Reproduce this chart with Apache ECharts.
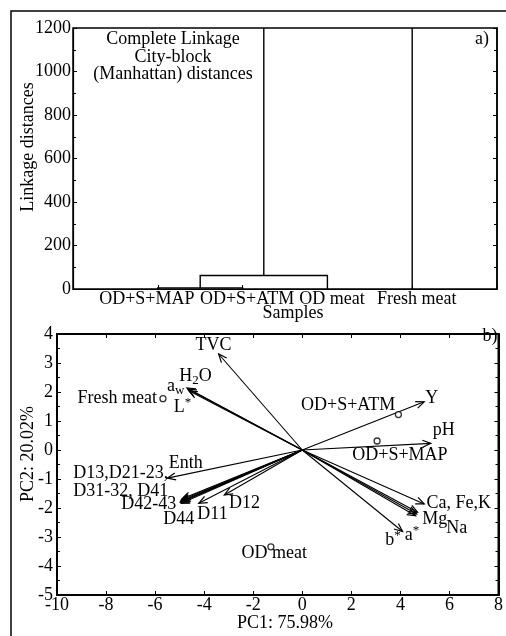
<!DOCTYPE html>
<html><head><meta charset="utf-8">
<script src="https://cdn.jsdelivr.net/npm/echarts@6/dist/echarts.min.js"></script>
<style>html,body{margin:0;padding:0;background:#fff}#c{width:506px;height:636px}</style>
</head><body><div id="c"></div>
<script>
// ---------- (a) dendrogram data ----------
const leafNames = ['OD+S+MAP', 'OD+S+ATM', 'OD meat', 'Fresh meat'];
const leafPos = [1, 2, 3, 4];
const mergeLeft = [1, 1.5, 2.25];
const mergeLeftBase = [0, 5, 62];
const mergeHeight = [5, 62, 1300];
const mergeRight = [2, 3, 4];
const mergeRightBase = [0, 0, 0];

// ---------- (b) PCA biplot data ----------
const vectorNames = ['TVC', 'aw', 'H2O', 'L*', 'Y', 'pH', 'Ca,Fe,K', 'Mg', 'Na', 'a*', 'b*',
  'Enth', 'D13', 'D21-23', 'D31-32', 'D41', 'D42-43', 'D44', 'D11', 'D12'];
const vectorPC1 = [-3.41, -4.70, -4.66, -4.62, 4.97, 5.24, 4.97, 4.70, 4.66, 4.62, 4.09,
  -5.50, -4.90, -4.94, -4.97, -4.93, -4.95, -4.90, -4.22, -3.18];
const vectorPC2 = [3.31, 2.14, 2.10, 2.04, 1.66, 0.23, -1.86, -2.15, -2.21, -2.27, -2.81,
  -0.97, -1.68, -1.73, -1.79, -1.84, -1.80, -1.76, -1.84, -1.55];

const sampleNames = ['Fresh meat', 'OD+S+ATM', 'OD+S+MAP', 'OD meat'];
const samplePC1 = [-5.68, 3.92, 3.05, -1.28];
const samplePC2 = [1.77, 1.22, 0.31, -3.34];

// annotation texts and their anchor positions (in PC coordinates)
const labelTexts = ['TVC', '{n|H}{sub|2}{n|O}', '{n|a}{sub|w}', 'Fresh meat', '{n|L}{sup|*}',
  'OD+S+ATM', 'Y', 'pH', 'OD+S+MAP', 'Enth', 'D13,D21-23,', 'D31-32, D41', 'D42-43', 'D44',
  'D11', 'D12', 'Ca, Fe,K', 'Mg', 'Na', '{n|a}{sup|*}', '{n|b}{sup|*}', 'OD meat'];
const labelPC1 = [-3.62, -4.35, -5.16, -7.54, -4.88, 1.87, 5.28, 5.77, 3.98, -4.75, -7.40, -7.40,
  -6.26, -5.04, -3.66, -2.36, 6.38, 5.40, 6.30, 4.47, 3.70, -1.14];
const labelPC2 = [3.62, 2.55, 2.21, 1.79, 1.48, 1.55, 1.79, 0.69, -0.17, -0.45, -0.79, -1.41,
  -1.86, -2.38, -2.21, -1.83, -1.83, -2.38, -2.69, -2.93, -3.10, -3.55];

const FONT = "'Liberation Serif', 'Times New Roman', serif";
const FS = 18;

const chart = echarts.init(document.getElementById('c'), null, {renderer: 'canvas'});

function mergeItem(params, api) {
  const a = api.coord([api.value(0), api.value(1)]);
  const b = api.coord([api.value(0), api.value(2)]);
  const c = api.coord([api.value(3), api.value(2)]);
  const d = api.coord([api.value(3), api.value(4)]);
  return {type: 'polyline', shape: {points: [a, b, c, d]},
    style: {stroke: '#000', lineWidth: 1.4, fill: null}};
}

function arrowItem(params, api) {
  const o = api.coord([0, 0]);
  const e = api.coord([api.value(0), api.value(1)]);
  const ang = Math.atan2(e[1] - o[1], e[0] - o[0]);
  const L = 9, A = 0.4;
  const p1 = [e[0] - L * Math.cos(ang - A), e[1] - L * Math.sin(ang - A)];
  const p2 = [e[0] - L * Math.cos(ang + A), e[1] - L * Math.sin(ang + A)];
  return {type: 'group', children: [
    {type: 'line', shape: {x1: o[0], y1: o[1], x2: e[0], y2: e[1]}, style: {stroke: '#000', lineWidth: 1.1}},
    {type: 'polyline', shape: {points: [p1, e, p2]}, style: {stroke: '#000', lineWidth: 1.2, fill: null}}
  ]};
}

function labelItem(params, api) {
  const p = api.coord([api.value(0), api.value(1)]);
  const t = labelTexts[api.value(2)];
  return {type: 'text', x: p[0], y: p[1], style: {
    text: t, fill: '#000', fontFamily: FONT, fontSize: 18, align: 'center', verticalAlign: 'middle',
    rich: {
      n: {fontFamily: FONT, fontSize: 18, lineHeight: 22, fill: '#000'},
      sub: {fontFamily: FONT, fontSize: 13, lineHeight: 10, verticalAlign: 'bottom', fill: '#000'},
      sup: {fontFamily: FONT, fontSize: 13, lineHeight: 10, verticalAlign: 'top', fill: '#000'}
    }
  }};
}

const labelRich = {
  l: {fontFamily: FONT, fontSize: FS, color: '#000', padding: [0, 22, 0, 0]},
  r: {fontFamily: FONT, fontSize: FS, color: '#000', padding: [0, 0, 0, 9]}
};

const tickStyle = {show: true, inside: true, length: 4, lineStyle: {color: '#000', width: 1}};
const minorStyle = {show: true, splitNumber: 2, length: 3, lineStyle: {color: '#000', width: 1}};
const plain = v => String(v);

const option = {
  backgroundColor: '#fff',
  animation: false,
  grid: [
    {left: 73, right: 9, top: 28, bottom: 347, show: true, borderColor: '#000', borderWidth: 1.5, backgroundColor: 'transparent'},
    {left: 57, right: 6, top: 334, bottom: 41, show: true, borderColor: '#000', borderWidth: 2, backgroundColor: 'transparent'}
  ],
  xAxis: [
    {gridIndex: 0, type: 'value', min: 0, max: 5, interval: 1, position: 'bottom',
      axisLine: {show: true, lineStyle: {color: '#000', width: 1.2}},
      axisTick: tickStyle, splitLine: {show: false},
      axisLabel: {margin: 1, color: '#000', fontFamily: FONT, fontSize: FS,
        formatter: v => {
          const i = leafPos.indexOf(v);
          if (i < 0) return '';
          return (i === 0 ? '{l|' : '{r|') + leafNames[i] + '}';
        }, rich: labelRich}},
    {gridIndex: 1, type: 'value', min: -10, max: 8, interval: 2, position: 'bottom',
      axisLine: {show: true, onZero: false, lineStyle: {color: '#000', width: 1.5}},
      axisTick: tickStyle, splitLine: {show: false},
      axisLabel: {margin: 1, color: '#000', fontFamily: FONT, fontSize: FS, formatter: plain}},
    {gridIndex: 1, type: 'value', min: -10, max: 8, interval: 2, position: 'top',
      axisLine: {show: true, onZero: false, lineStyle: {color: '#000', width: 2}},
      axisTick: tickStyle, axisLabel: {show: false}, splitLine: {show: false}}
  ],
  yAxis: [
    {gridIndex: 0, type: 'value', min: 0, max: 1200, interval: 200, position: 'left',
      axisLine: {show: true, lineStyle: {color: '#000', width: 1.2}},
      axisTick: tickStyle, minorTick: minorStyle, splitLine: {show: false},
      axisLabel: {margin: 2, color: '#000', fontFamily: FONT, fontSize: FS, formatter: plain}},
    {gridIndex: 0, type: 'value', min: 0, max: 1200, interval: 200, position: 'right',
      axisLine: {show: true, lineStyle: {color: '#000', width: 1.5}},
      axisTick: tickStyle, minorTick: minorStyle, axisLabel: {show: false}, splitLine: {show: false}},
    {gridIndex: 1, type: 'value', min: -5, max: 4, interval: 1, position: 'left',
      axisLine: {show: true, onZero: false, lineStyle: {color: '#000', width: 2}},
      axisTick: tickStyle, minorTick: minorStyle, splitLine: {show: false},
      axisLabel: {margin: 4, color: '#000', fontFamily: FONT, fontSize: FS, formatter: plain}},
    {gridIndex: 1, type: 'value', min: -5, max: 4, interval: 1, position: 'right',
      axisLine: {show: true, onZero: false, lineStyle: {color: '#000', width: 2}},
      axisTick: tickStyle, minorTick: minorStyle, axisLabel: {show: false}, splitLine: {show: false}}
  ],
  series: [
    {type: 'custom', xAxisIndex: 0, yAxisIndex: 0, clip: true, renderItem: mergeItem,
      encode: {x: [0, 3], y: [1, 2, 4]},
      data: mergeLeft.map((x, i) => [x, mergeLeftBase[i], mergeHeight[i], mergeRight[i], mergeRightBase[i]])},
    {type: 'custom', xAxisIndex: 1, yAxisIndex: 2, clip: true, renderItem: arrowItem,
      encode: {x: 0, y: 1},
      data: vectorPC1.map((x, i) => [x, vectorPC2[i], vectorNames[i]])},
    {type: 'scatter', xAxisIndex: 1, yAxisIndex: 2, symbol: 'circle', symbolSize: 6,
      itemStyle: {color: '#fff', borderColor: '#000', borderWidth: 1.3},
      data: samplePC1.map((x, i) => ({name: sampleNames[i], value: [x, samplePC2[i]]}))},
    {type: 'custom', xAxisIndex: 1, yAxisIndex: 2, clip: false, renderItem: labelItem,
      encode: {x: 0, y: 1},
      data: labelPC1.map((x, i) => [x, labelPC2[i], i])}
  ],
  graphic: [
    {type: 'rect', shape: {x: 11, y: 11, width: 530, height: 660}, style: {stroke: '#000', lineWidth: 1.5, fill: null}, z: 0},
    {type: 'text', x: 173, y: 57, style: {text: 'Complete Linkage\nCity-block\n(Manhattan) distances',
      fontFamily: FONT, fontSize: FS, lineHeight: 17.5, fill: '#000', align: 'center', verticalAlign: 'middle'}},
    {type: 'text', x: 482, y: 39, style: {text: 'a)', fontFamily: FONT, fontSize: FS, fill: '#000', align: 'center', verticalAlign: 'middle'}},
    {type: 'text', x: 490, y: 336, style: {text: 'b)', fontFamily: FONT, fontSize: FS, fill: '#000', align: 'center', verticalAlign: 'middle'}},
    {type: 'text', x: 293, y: 313, style: {text: 'Samples', fontFamily: FONT, fontSize: FS, fill: '#000', align: 'center', verticalAlign: 'middle'}},
    {type: 'text', x: 28, y: 147, rotation: Math.PI / 2, style: {text: 'Linkage distances', fontFamily: FONT, fontSize: FS, fill: '#000', align: 'center', verticalAlign: 'middle'}},
    {type: 'text', x: 285, y: 623, style: {text: 'PC1: 75.98%', fontFamily: FONT, fontSize: FS, fill: '#000', align: 'center', verticalAlign: 'middle'}},
    {type: 'text', x: 28, y: 454, rotation: Math.PI / 2, style: {text: 'PC2: 20.02%', fontFamily: FONT, fontSize: FS, fill: '#000', align: 'center', verticalAlign: 'middle'}}
  ]
};
chart.setOption(option);
</script>
</body></html>
